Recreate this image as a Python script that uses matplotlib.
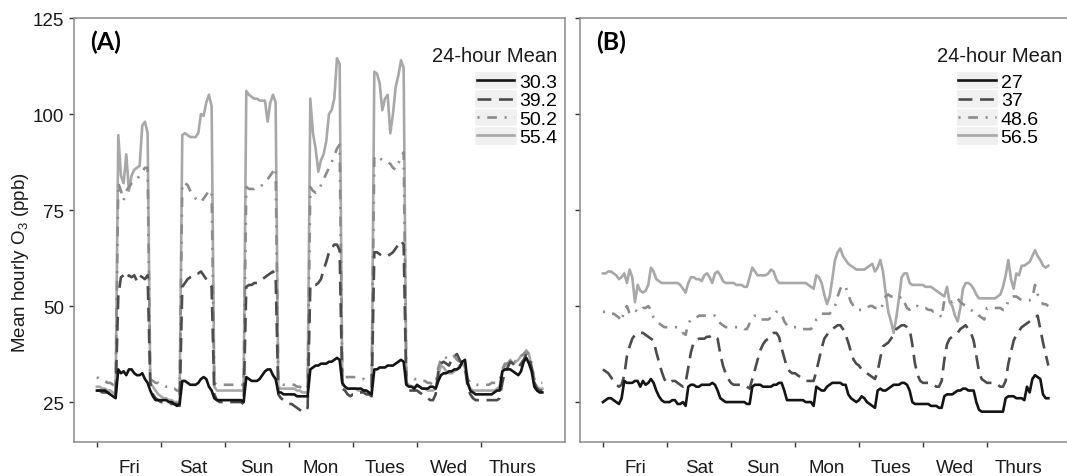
import numpy as np
import matplotlib
matplotlib.use("Agg")
import matplotlib.pyplot as plt
from matplotlib.legend_handler import HandlerBase
from matplotlib.lines import Line2D
from matplotlib.patches import Rectangle

plt.rcParams['font.family'] = ['Liberation Sans', 'DejaVu Sans']
plt.rcParams['mathtext.fontset'] = 'custom'
plt.rcParams['mathtext.rm'] = 'Liberation Sans'
plt.rcParams['lines.scale_dashes'] = False

days = ['Fri', 'Sat', 'Sun', 'Mon', 'Tues', 'Wed', 'Thurs']

# hourly means, one row of 24 values per day (Fri .. Thurs)
a_black = [
    28, 28, 28, 28, 27.5, 27, 26.5, 26, 33.5, 32.5, 33, 32, 33.5, 33.5, 32.5, 32, 32, 32.5, 31, 30, 28, 26.5, 25.5, 25.5,
    25.5, 25.5, 25.5, 25, 25, 24.5, 24, 24.5, 30.5, 30.5, 30, 29.5, 29.5, 29.5, 30, 31, 31.5, 31, 29, 28, 26, 25.5, 25.5, 25.5,
    25.5, 25.5, 25.5, 25.5, 25.5, 25.5, 25.5, 25, 31.5, 31, 30.5, 30.5, 30.5, 31, 32, 33, 33.5, 33.5, 32, 31, 27.5, 27.5, 27, 27,
    27, 27, 27, 26.5, 26.5, 26.5, 26.5, 26.5, 33.5, 34, 34.5, 34.5, 35, 35, 35, 35.5, 35.5, 36, 36.5, 36, 30, 29, 28.5, 28.5,
    28.5, 28.5, 28.5, 28.5, 28, 28, 27.5, 27, 33.5, 33.5, 34, 34, 34, 34.5, 34.5, 34.5, 35, 35.5, 36, 35.5, 29.5, 29, 29, 28.5,
    29.5, 29, 28.5, 28.5, 28.5, 29, 29, 28.5, 30.5, 32, 32.5, 32.5, 33, 33, 33.5, 33.5, 34, 35.5, 36, 30, 28, 27.5, 27, 27,
    27, 27, 27, 27, 27, 27.5, 28, 28, 33, 33.5, 33.5, 33.5, 33, 32.5, 32, 33, 35.5, 36.5, 35, 33, 29, 28, 27.5, 27.5,
]
a_dash = [
    28, 28, 27.5, 27.5, 27.5, 27, 27, 26.5, 52.5, 57.5, 58, 57, 58, 57.5, 58, 56.5, 58, 57.5, 57, 58, 30, 27, 26, 25.5,
    25, 25, 25, 25, 24.5, 24.5, 24.5, 24, 55, 56, 57, 57.5, 58, 58.5, 58.5, 59, 58, 57, 56, 55, 27, 25.5, 25, 25,
    25, 25, 25, 25, 25, 25, 25, 24.5, 55, 55.5, 55.5, 56, 56, 56.5, 57, 57.5, 58, 58.5, 59, 58, 27, 26, 25.5, 25,
    24.5, 24.5, 24, 23.5, 23, 22.5, 22.5, 23.5, 55.5, 55.5, 55.5, 56, 57, 59.5, 61.5, 64, 65, 66, 66, 64.5, 28.5, 28, 27, 26.5,
    27, 27, 27.5, 27.5, 27.5, 27, 27, 26.5, 64, 64, 63.5, 63, 63, 63, 63.5, 64, 65, 66, 67, 66, 28.5, 28, 28, 28,
    28, 27.5, 27, 26.5, 26, 25.5, 25.5, 27, 33, 35, 35.5, 35, 34.5, 36, 37, 37.5, 36, 35, 34, 29, 27, 26, 25.5, 25.5,
    25.5, 25.5, 25.5, 25.5, 25.5, 25.5, 25.5, 26, 30, 33, 34, 35.5, 35, 34, 34, 35, 36, 37.5, 36.5, 34, 30, 28.5, 28, 28,
]
a_dotdash = [
    31.5, 31, 30.5, 30.5, 30, 30, 29.5, 29, 82, 80, 77.5, 80, 81, 82, 82.5, 83, 84, 85, 86, 86, 31, 30.5, 30, 30,
    29.5, 29.5, 29, 29, 28.5, 28.5, 28, 28, 82, 82, 81.5, 80, 79, 78, 77.5, 77, 78, 79, 80, 80, 30, 29.5, 29.5, 29.5,
    29.5, 29.5, 29.5, 29.5, 29.5, 29.5, 29.5, 29.5, 81, 80.5, 80.5, 80.5, 81, 81, 81.5, 82, 83, 84, 85, 86, 30, 30, 29.5, 29.5,
    29.5, 29.5, 29.5, 29, 29, 28.5, 28.5, 28.5, 81, 80, 79.5, 80, 81.5, 83, 84.5, 86, 87.5, 89, 91, 92, 32, 31.5, 31.5, 31.5,
    31.5, 31.5, 31, 31, 31, 30.5, 30.5, 30, 89, 89, 88.5, 88, 87.5, 87.5, 87, 86, 85.5, 87, 89, 90, 32, 31.5, 31.5, 31,
    31, 31, 30.5, 30.5, 30, 30, 29.5, 30, 34, 36, 37, 36.5, 36, 36.5, 37, 36, 35.5, 36, 35, 31, 30, 29.5, 29.5, 29.5,
    29.5, 29.5, 29.5, 29.5, 30, 30, 30, 30.5, 33.5, 35, 35, 36, 36, 35.5, 36, 37, 37.5, 38, 37.5, 35, 31, 30, 30, 30,
]
a_light = [
    29, 29, 28.5, 28.5, 28, 28, 27.5, 27, 94.5, 84, 82, 89.5, 80, 84, 85.5, 86, 86.5, 97, 98, 95, 30, 29, 28, 27,
    26.5, 26, 26, 25.5, 25.5, 25, 25, 25, 94.5, 95, 94.5, 94, 94, 94, 95, 100, 99.5, 103, 105, 102, 29, 28, 28, 28,
    28, 28, 28, 28, 28, 28, 28, 28, 106, 105, 104.5, 104, 104, 103.5, 103.5, 103.5, 98, 103, 105, 103, 29, 28.5, 28.5, 28.5,
    28.5, 28.5, 28.5, 28, 28, 27.5, 27.5, 27.5, 104, 95, 91, 85, 88, 89.5, 93, 100, 101, 104, 114.5, 113, 29.5, 29, 28.5, 28.5,
    28.5, 28.5, 28, 28, 28, 28, 27.5, 27.5, 111, 110.5, 108, 101, 104, 105, 95, 100, 107, 110, 114, 112, 30, 29.5, 29, 29,
    29, 29, 28.5, 28.5, 28, 28, 28, 28.5, 32, 34.5, 34, 33, 32.5, 32.5, 33, 33.5, 34.5, 35, 34, 30, 28.5, 28, 28, 28,
    28, 28, 28, 28, 28, 28, 28.5, 29, 33, 34.5, 35, 36, 35, 35.5, 36, 37, 37.5, 38.5, 37.5, 34, 30, 29, 28.5, 28.5,
]

b_black = [
    25, 25.5, 26, 26, 25.5, 25, 24.5, 26, 30.5, 30, 30, 30, 30.5, 30.5, 29, 30.5, 29.5, 30, 31, 30, 28, 26.5, 25.5, 25,
    25, 25, 25.5, 25.5, 24.5, 24.5, 25, 24, 29, 29.5, 29.5, 29, 29, 29.5, 29.5, 29.5, 29.5, 30, 29.5, 28, 26, 25.5, 25, 25,
    25, 25, 25, 25, 25, 25, 24.5, 24.5, 29, 29.5, 29.5, 29.5, 29, 29, 29, 29, 29.5, 29.5, 30, 30, 28, 25.5, 25.5, 25.5,
    25.5, 25.5, 25.5, 25.5, 25, 25, 25, 24, 29, 28.5, 28, 28, 29, 29.5, 30, 30, 30, 30, 29.5, 29.5, 27, 26, 25.5, 25,
    25.5, 26.5, 26, 25, 24.5, 24, 23.5, 28, 28.5, 28, 28, 28.5, 29, 29.5, 29.5, 29.5, 30, 30, 29.5, 28, 25, 24.5, 24.5, 24.5,
    24.5, 24.5, 24.5, 24, 24, 24, 23.5, 23.5, 26.5, 27, 27, 27, 27.5, 28, 28, 28.5, 28.5, 28, 28, 28, 25, 23, 22.5, 22.5,
    22.5, 22.5, 22.5, 22.5, 22.5, 22.5, 22.5, 26, 26.5, 26.5, 26.5, 26, 26, 26, 25.5, 29, 27.5, 31, 32, 31.5, 31, 27, 26, 26,
]
b_dash = [
    33.5, 33, 32.5, 31.5, 30.5, 29.5, 29, 29.5, 32, 37, 39.5, 41.5, 42.5, 43, 43, 43, 42.5, 42, 41.5, 41, 38, 35.5, 33, 31,
    30, 30, 30.5, 30.5, 30, 29.5, 29, 30, 34, 38, 40.5, 41, 41.5, 41.5, 41.5, 42, 42, 42.5, 42, 41.5, 37.5, 34.5, 32.5, 31,
    30, 29.5, 29.5, 29.5, 29.5, 29.5, 29, 28.5, 31, 33.5, 36, 38.5, 40, 41, 41.5, 42.5, 43, 43, 42, 39, 36.5, 34, 33, 32.5,
    32.5, 32, 31.5, 31, 30.5, 30.5, 30.5, 30.5, 33, 36, 39, 41.5, 42.5, 43.5, 44, 44.5, 45, 45, 44, 42.5, 40.5, 38, 36, 35,
    34.5, 33.5, 33, 32.5, 32, 31.5, 31, 33, 36.5, 39.5, 40, 40.5, 41.5, 42.5, 44, 44.5, 45, 45, 44.5, 44, 40, 35, 32, 30.5,
    30, 30, 30, 29.5, 29.5, 29, 29, 30.5, 36, 40, 41.5, 42, 42.5, 43, 44, 44.5, 45, 44, 43, 41, 37, 33, 31, 30.5,
    30, 30, 30, 29.5, 29.5, 29, 29, 30.5, 35, 38, 41, 42.5, 43.5, 44.5, 45, 45.5, 46, 46.5, 47, 47.5, 44, 40.5, 37.5, 34.5,
]
b_dotdash = [
    48.5, 48.5, 48, 48, 48, 47.5, 47, 46, 49, 50, 48, 48.5, 49, 48.5, 48.5, 49.5, 49.5, 50, 49, 47, 46, 45.5, 45, 44.5,
    44.5, 44.5, 44.5, 44.5, 44.5, 44, 43, 42.5, 45.5, 46.5, 47, 47, 47.5, 47.5, 47.5, 47.5, 47.5, 47.5, 47.5, 47, 45.5, 45, 44.5, 44.5,
    44.5, 44.5, 44.5, 44.5, 44.5, 44, 44, 45.5, 46.5, 47.5, 47.5, 46.5, 46.5, 46.5, 46.5, 47, 47.5, 48.5, 48.5, 48, 46, 45, 44.5, 44.5,
    44.5, 44.5, 44.5, 44, 44, 44, 44, 45, 46.5, 47, 48, 48, 48, 48, 49, 50, 52.5, 54.5, 55.5, 55, 53, 51, 50, 49,
    49, 49, 49.5, 49.5, 50, 50, 49.5, 49.5, 49, 50.5, 52.5, 53, 52.5, 52.5, 52, 52, 52.5, 51, 49.5, 49, 50, 50, 50, 49.5,
    49.5, 49.5, 49, 49, 48.5, 48.5, 48, 47, 51.5, 51.5, 51.5, 51, 52, 52, 51, 50.5, 50, 49.5, 49, 48.5, 48.5, 47.5, 47, 46.5,
    49.5, 49.5, 49.5, 49.5, 49.5, 49.5, 49, 49, 51.5, 52, 52.5, 52.5, 52, 51.5, 51.5, 51.5, 51.5, 52, 55.5, 53, 52, 50.5, 50.5, 50,
]
b_light = [
    58.5, 58.5, 59, 59, 58.5, 58, 57, 57.5, 58.5, 56, 59.5, 57.5, 51, 55.5, 54, 53.5, 54, 55.5, 60, 59, 57, 56.5, 56, 56,
    56, 56, 56, 56, 56, 55.5, 54.5, 53.5, 56, 57.5, 57.5, 57, 57, 56.5, 58, 58.5, 57.5, 56, 58.5, 59, 58, 56.5, 56, 56,
    56, 56, 55.5, 55.5, 55.5, 55, 55, 57.5, 60, 59, 58, 58, 58, 58, 58.5, 59.5, 59, 57, 56, 56, 56, 56, 56, 56,
    56, 56, 56, 56, 56, 55.5, 55, 54.5, 58, 57.5, 56, 53, 50.5, 52.5, 57, 62, 64, 65, 63, 62, 61, 60.5, 60, 59.5,
    59.5, 59.5, 59.5, 60, 60.5, 61, 59, 60, 62, 59, 53.5, 48.5, 46, 43, 47, 52, 57.5, 58.5, 58.5, 56, 55.5, 55.5, 55.5, 55.5,
    55.5, 55, 55, 55, 54.5, 54, 53.5, 53, 52.5, 55, 51, 50, 47.5, 46, 49.5, 54.5, 56, 56, 55.5, 54.5, 53, 52, 52, 52,
    52, 52, 52, 52, 52.5, 53, 55, 58, 62, 57, 54.5, 58.5, 58, 60.5, 60.5, 61, 61.5, 63, 64.5, 63, 62, 60.5, 60, 60.5,
]

a_means = ['30.3', '39.2', '50.2', '55.4']
b_means = ['27', '37', '48.6', '56.5']

hours = np.arange(len(a_black))

# line styles: solid black, dashed dark grey, dot-dash grey, solid light grey
styles = [
    dict(color='#141414', linestyle='-'),
    dict(color='#4c4c4c', dashes=(10, 5.5)),
    dict(color='#8c8c8c', dashes=(1.5, 5.5, 7, 5.5)),
    dict(color='#a8a8a8', linestyle='-'),
]
LW = 1.9


class KeyBox(HandlerBase):
    """ggplot-style legend key: grey box with the line sample on top."""
    def create_artists(self, legend, orig, xd, yd, w, h, fontsize, trans):
        bg = Rectangle((-xd, -yd - 1), w, h + 2, facecolor='#f0f0f0',
                       edgecolor='white', linewidth=1.0, transform=trans)
        y = -yd + h / 2
        ln = Line2D([-xd + 0.06 * w, -xd + 0.94 * w], [y, y])
        ln.update_from(orig)
        ln.set_transform(trans)
        return [bg, ln]


fig = plt.figure(figsize=(10.67, 4.77), dpi=100)
W, H = 1067, 477
ax_a = fig.add_axes([74 / W, 1 - 443 / H, 491 / W, 424 / H])
ax_b = fig.add_axes([580 / W, 1 - 443 / H, 491 / W, 424 / H])

panels = [
    (ax_a, [a_black, a_dash, a_dotdash, a_light], a_means, '(A)'),
    (ax_b, [b_black, b_dash, b_dotdash, b_light], b_means, '(B)'),
]

for ax, series, means, tag in panels:
    handles = [Line2D([], [], linewidth=LW, **st) for st in styles]
    # light grey drawn first so the darker lines sit on top
    for vals, st in reversed(list(zip(series, styles))):
        ax.plot(hours, vals, linewidth=LW, solid_joinstyle='round', **st)

    ax.set_xlim(-8.6, 175.5)
    ax.set_ylim(14.6, 125)
    ax.set_xticks(np.arange(0, 168, 24))
    ax.set_xticklabels([])
    ax.set_xticks(np.arange(12, 168, 24), minor=True)
    ax.set_xticklabels(days, minor=True)
    ax.tick_params(axis='x', which='minor', length=0, pad=12, labelsize=13.5,
                   labelcolor='#1a1a1a')
    ax.tick_params(axis='both', which='major', length=3.5, width=1,
                   color='#333333', labelsize=13.5, labelcolor='#1a1a1a')
    ax.set_yticks([25, 50, 75, 100, 125])
    for sp in ax.spines.values():
        sp.set_color('#8a8a8a')
        sp.set_linewidth(1.1)

    ax.text(0.032, 0.972, tag, transform=ax.transAxes, ha='left', va='top',
            fontsize=18, fontweight='bold', family=['Lato', 'DejaVu Sans'])

    leg = ax.legend(handles, means, handler_map={Line2D: KeyBox()},
                    loc='upper left', frameon=False, fontsize=14,
                    handlelength=2.2, handleheight=0.85, handletextpad=0.12,
                    labelspacing=0.0, borderpad=0, borderaxespad=0)
    leg.set_in_layout(False)

ax_a.set_yticklabels(['25', '50', '75', '100', '125'])
ax_b.set_yticklabels([])
ax_a.set_ylabel('Mean hourly O$_3$ (ppb)', fontsize=13.5, color='#1a1a1a')
ax_a.yaxis.set_label_coords(-0.088, 0.425)

# legend placement and titles
ax_a.get_legend().set_bbox_to_anchor((0.815, 0.872), transform=ax_a.transAxes)
ax_b.get_legend().set_bbox_to_anchor((0.765, 0.872), transform=ax_b.transAxes)
ax_a.text(0.984, 0.899, '24-hour Mean', transform=ax_a.transAxes,
          ha='right', va='baseline', fontsize=14.5, color='#1a1a1a')
ax_b.text(0.982, 0.899, '24-hour Mean', transform=ax_b.transAxes,
          ha='right', va='baseline', fontsize=14.5, color='#1a1a1a')

fig.savefig('out.png', dpi=100)
